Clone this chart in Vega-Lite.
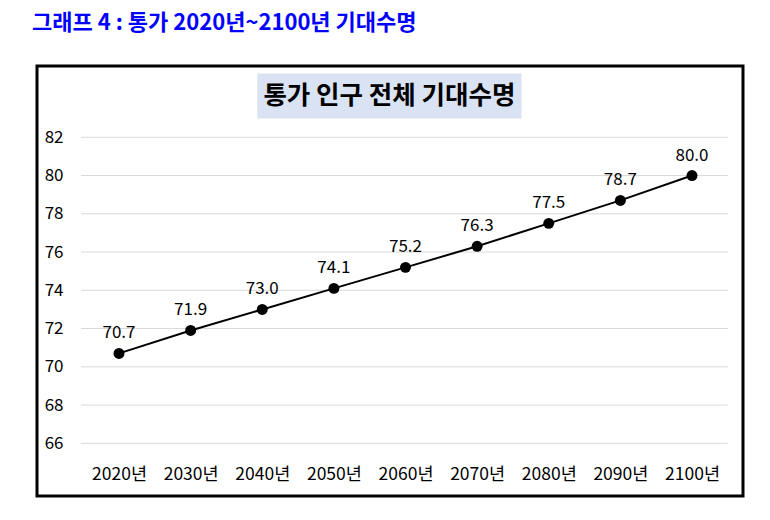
{
  "$schema": "https://vega.github.io/schema/vega-lite/v6.json",
  "width": 706,
  "height": 430,
  "autosize": "none",
  "padding": {"left": 37, "top": 66, "right": 27, "bottom": 24},
  "background": "white",
  "title": {
    "text": "그래프 4 : 통가 2020년~2100년 기대수명",
    "anchor": "start",
    "frame": "group",
    "font": "Noto Sans CJK KR",
    "fontSize": 22,
    "fontWeight": "bold",
    "color": "#0000FF",
    "offset": 31,
    "dx": -5
  },
  "config": {
    "view": {"stroke": "black", "strokeWidth": 3},
    "font": "Noto Sans CJK KR"
  },
  "datasets": {
    "life": [
      {"year": 2020, "value": 70.7},
      {"year": 2030, "value": 71.9},
      {"year": 2040, "value": 73.0},
      {"year": 2050, "value": 74.1},
      {"year": 2060, "value": 75.2},
      {"year": 2070, "value": 76.3},
      {"year": 2080, "value": 77.5},
      {"year": 2090, "value": 78.7},
      {"year": 2100, "value": 80.0}
    ],
    "grid": [
      {"g": 66}, {"g": 68}, {"g": 70}, {"g": 72}, {"g": 74},
      {"g": 76}, {"g": 78}, {"g": 80}, {"g": 82}
    ],
    "one": [{"t": "통가 인구 전체 기대수명"}]
  },
  "layer": [
    {
      "data": {"name": "grid"},
      "mark": {"type": "rule", "color": "#d9d9d9", "strokeWidth": 1},
      "encoding": {
        "y": {"field": "g", "type": "quantitative",
          "scale": {"domain": [63.245, 85.728], "nice": false, "zero": false},
          "axis": {"values": [66, 68, 70, 72, 74, 76, 78, 80, 82], "domain": false, "ticks": false, "grid": false,
            "labelPadding": 0, "offset": -26, "title": null, "labelFontSize": 17, "labelColor": "black",
            "labelFont": "Noto Sans CJK KR"}},
        "x": {"datum": 2014.7, "type": "quantitative",
          "scale": {"domain": [2008.55, 2107.12], "nice": false, "zero": false},
          "axis": {"values": [2020, 2030, 2040, 2050, 2060, 2070, 2080, 2090, 2100], "domain": false, "ticks": false, "grid": false,
            "labelExpr": "datum.value + '년'", "labelPadding": 0, "offset": -31, "title": null,
            "labelFontSize": 17.5, "labelColor": "black", "labelFont": "Noto Sans CJK KR", "labelBaseline": "top"}},
        "x2": {"datum": 2105}
      }
    },
    {
      "data": {"name": "one"},
      "mark": {"type": "rect", "color": "#dae3f3"},
      "encoding": {
        "x": {"datum": 2039.3, "type": "quantitative"},
        "x2": {"datum": 2076.2},
        "y": {"datum": 85.34, "type": "quantitative"},
        "y2": {"datum": 82.98}
      }
    },
    {
      "data": {"name": "one"},
      "mark": {"type": "text", "fontSize": 25.5, "fontWeight": "bold", "color": "black", "font": "Noto Sans CJK KR", "align": "center", "baseline": "middle"},
      "encoding": {
        "x": {"datum": 2057.75, "type": "quantitative"},
        "y": {"datum": 84.16, "type": "quantitative"},
        "text": {"field": "t", "type": "nominal"}
      }
    },
    {
      "data": {"name": "life"},
      "mark": {"type": "line", "color": "black", "strokeWidth": 2},
      "encoding": {
        "x": {"field": "year", "type": "quantitative"},
        "y": {"field": "value", "type": "quantitative"}
      }
    },
    {
      "data": {"name": "life"},
      "mark": {"type": "point", "filled": true, "color": "black", "size": 120, "opacity": 1},
      "encoding": {
        "x": {"field": "year", "type": "quantitative"},
        "y": {"field": "value", "type": "quantitative"}
      }
    },
    {
      "data": {"name": "life"},
      "mark": {"type": "text", "fontSize": 17, "color": "black", "dy": -20, "font": "Noto Sans CJK KR"},
      "encoding": {
        "x": {"field": "year", "type": "quantitative"},
        "y": {"field": "value", "type": "quantitative"},
        "text": {"field": "value", "type": "quantitative", "format": ".1f"}
      }
    }
  ]
}
